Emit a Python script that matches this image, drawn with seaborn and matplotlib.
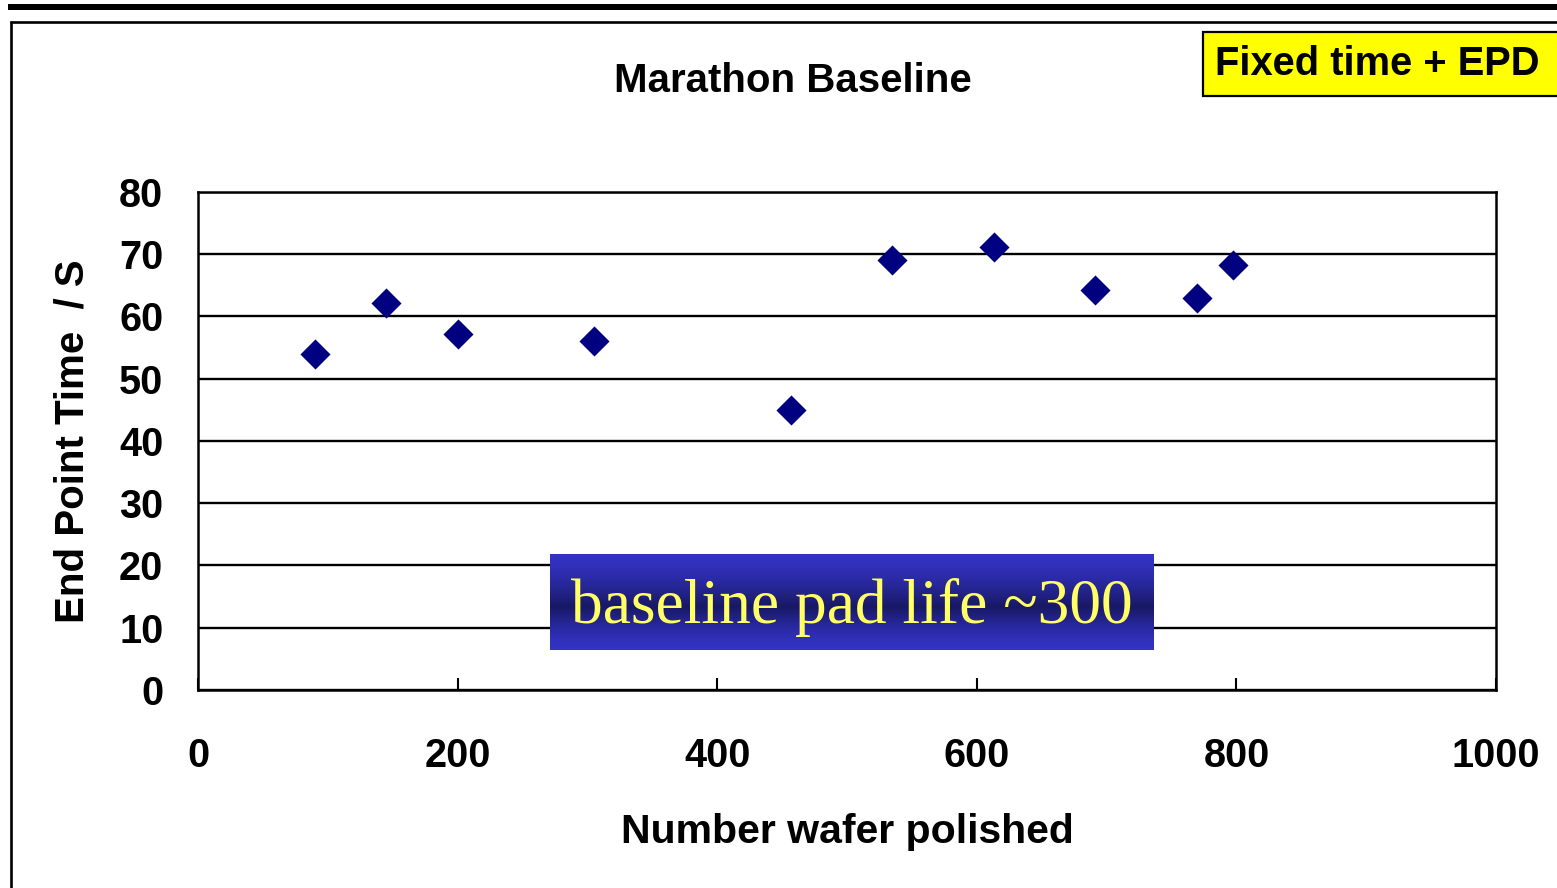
import numpy as np
import matplotlib
matplotlib.use('Agg')
import matplotlib.pyplot as plt
import seaborn as sns
import pandas as pd
from matplotlib.lines import Line2D
from matplotlib.patches import Rectangle

# ---- data ----
wafers_polished = [90, 145, 200, 305, 457, 535, 613, 691, 770, 797]
end_point_time = [54.0, 62.2, 57.2, 56.0, 45.0, 69.1, 71.1, 64.2, 63.0, 68.2]
x_ticks = [0, 200, 400, 600, 800, 1000]
y_ticks = [0, 10, 20, 30, 40, 50, 60, 70, 80]
title_text = "Marathon Baseline"
x_label = "Number wafer polished"
y_label = "End Point Time  / S"
badge_text = "Fixed time + EPD"
note_text = "baseline pad life ~300"

sns.set_theme(style='white')
plt.rcParams['font.family'] = ['Liberation Sans', 'DejaVu Sans']
plt.rcParams['font.weight'] = 'bold'

W, H = 1557, 888
fig = plt.figure(figsize=(W / 100, H / 100), dpi=100)
fig.patch.set_facecolor('white')

ax = fig.add_axes([198 / W, 1 - 690 / H, (1496 - 198) / W, (690 - 192) / H])
df = pd.DataFrame({'wafers': wafers_polished, 'time': end_point_time})
sns.scatterplot(data=df, x='wafers', y='time', marker='D', color='#000080',
                s=235, linewidth=0, ax=ax, zorder=3, legend=False)

ax.set_xlim(0, 1000)
ax.set_ylim(0, 80)
ax.set_xticks(x_ticks)
ax.set_yticks(y_ticks)
ax.set_xticklabels([str(v) for v in x_ticks], fontsize=28.5, fontweight='bold')
ax.set_yticklabels([str(v) for v in y_ticks], fontsize=28.5, fontweight='bold')
ax.yaxis.grid(True, color='black', linewidth=1.7)
ax.xaxis.grid(False)
ax.set_axisbelow(True)
for sp in ax.spines.values():
    sp.set_visible(True)
    sp.set_color('black')
    sp.set_linewidth(1.8)
ax.tick_params(axis='x', direction='in', length=9, width=1.5, pad=34,
               colors='black', bottom=True)
ax.tick_params(axis='y', length=0, pad=25, colors='black', left=True)
ax.set_xlabel(x_label, fontsize=29.5, fontweight='bold', labelpad=27, color='black')
ax.set_ylabel(y_label, fontsize=29, fontweight='bold', labelpad=20, color='black')

# title
fig.text(793 / W, 1 - 92 / H, title_text, ha='center', va='baseline',
         fontsize=29, fontweight='bold', color='black')

# gradient note box
bx0, by0, bx1, by1 = 550, 554, 1154, 650
bax = fig.add_axes([bx0 / W, 1 - by1 / H, (bx1 - bx0) / W, (by1 - by0) / H])
light = np.array([51, 51, 196]) / 255
dark = np.array([24, 24, 100]) / 255
t = np.linspace(0, 1, 200)
mid = 0.55
w = np.where(t < mid, t / mid, (1 - t) / (1 - mid))
w = np.clip(w, 0, 1) ** 1.5
grad = light[None, :] * (1 - w[:, None]) + dark[None, :] * w[:, None]
bax.imshow(grad[:, None, :], aspect='auto', extent=[0, 1, 0, 1], interpolation='bilinear')
bax.set_axis_off()
fig.text(852 / W, 1 - 623 / H, note_text, ha='center', va='baseline',
         fontsize=45.7, fontweight='normal', family=['Liberation Serif', 'DejaVu Serif'],
         color='#FFFF66')

# badge
fig.add_artist(Rectangle((1203 / W, 1 - 96 / H), (1600 - 1203) / W, 64 / H,
                         facecolor='#FFFF00', edgecolor='black', linewidth=1.6,
                         transform=fig.transFigure))
fig.text(1215 / W, 1 - 75 / H, badge_text, ha='left', va='baseline',
         fontsize=28.7, fontweight='bold', color='black')

# frame lines
fig.add_artist(Line2D([8 / W, 1.01], [1 - 7 / H, 1 - 7 / H], color='black',
                      linewidth=4.3, transform=fig.transFigure, solid_capstyle='butt'))
fig.add_artist(Line2D([10 / W, 1.01], [1 - 22 / H, 1 - 22 / H], color='black',
                      linewidth=1.9, transform=fig.transFigure, solid_capstyle='butt'))
fig.add_artist(Line2D([10.7 / W, 10.7 / W], [1 - 21 / H, -0.01], color='black',
                      linewidth=1.9, transform=fig.transFigure, solid_capstyle='butt'))

fig.savefig('out.png', dpi=100)
